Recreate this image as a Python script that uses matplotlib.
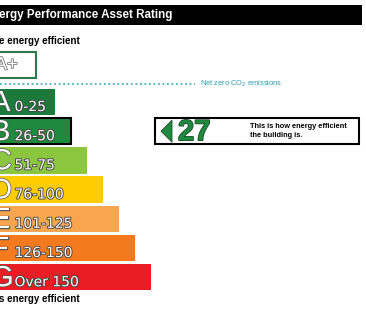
import matplotlib
matplotlib.use("Agg")
import matplotlib.pyplot as plt
import matplotlib.patheffects as pe
from matplotlib.patches import Rectangle, Polygon

plt.rcParams['font.family'] = ['Liberation Sans', 'DejaVu Sans']

# ---- data ----
bands = ['A', 'B', 'C', 'D', 'E', 'F', 'G']
ranges = ['0-25', '26-50', '51-75', '76-100', '101-125', '126-150', 'Over 150']
bar_lengths = [60, 76, 92, 108, 124, 140, 156]
colors = ['#1b7a3c', '#1f8a3e', '#8cc63f', '#ffcc00', '#f8a54f', '#f47a20', '#ea1c24']
rating = 27
rating_band = 'B'
title = 'ergy Performance Asset Rating'
top_label = 'e energy efficient'
bottom_label = 's energy efficient'
net_zero = 'Net zero CO$_2$ emissions'
rating_note = 'This is how energy efficient\nthe building is.'

W, H = 366, 311
fig = plt.figure(figsize=(W / 100, H / 100), dpi=100)
ax = fig.add_axes([0, 0, 1, 1])
ax.set_xlim(0, W)
ax.set_ylim(H, 0)
ax.axis('off')

# header
ax.add_patch(Rectangle((-5, 5), 367, 19.5, facecolor='black', edgecolor='none'))
ax.text(-1, 15, title, color='white', fontsize=8.4, fontweight='bold', va='center', ha='left')

ax.text(-1, 40.5, top_label, color='black', fontsize=7, fontweight='bold', va='center', ha='left')

# A+ box
ax.add_patch(Rectangle((-3, 51.5), 39, 26.5, facecolor='white', edgecolor='#2e7a48', linewidth=1.5))
ax.text(-5, 65, 'A+', color='white', fontsize=13, va='center', ha='left',
        path_effects=[pe.withStroke(linewidth=1.2, foreground='#777777')])

# dotted line
ax.plot([0, 195], [83.5, 83.5], linestyle=(0, (1, 1.5)), color='#45aebb', linewidth=1.3)
ax.text(200, 83.5, net_zero, color='#2b9db0', fontsize=5.4, va='center', ha='left')

# bars
y0, step, hgt = 102, 29.2, 26.5
ys = [y0 + i * step for i in range(len(bands))]
left = -5
for i, (b, r, c) in enumerate(zip(bands, ranges, colors)):
    is_r = b == rating_band
    ax.barh(ys[i], bar_lengths[i], left=left, height=hgt, color=c,
            edgecolor='black' if is_r else 'none', linewidth=1.5 if is_r else 0)
    ax.text(-9, ys[i] + 9, b, color='white', fontsize=21, va='baseline', ha='left',
            path_effects=[pe.withStroke(linewidth=1.0, foreground='#555555')])
    ax.text(14.5, ys[i] + 9, r, color='white', fontsize=10, va='baseline', ha='left',
            family='DejaVu Sans',
            path_effects=[pe.withStroke(linewidth=1.3, foreground='#444444')])

ax.text(-1, 299, bottom_label, color='black', fontsize=7, fontweight='bold', va='center', ha='left')

# rating box
ri = bands.index(rating_band)
ry = ys[ri]
ax.add_patch(Rectangle((154.5, ry - 13), 204.5, 26, facecolor='white', edgecolor='black', linewidth=1.5))
ax.add_patch(Polygon([[161, ry], [172, ry - 11], [172, ry + 11]], closed=True,
                     facecolor=colors[ri], edgecolor='#1c4d2c', linewidth=0.6))
ax.text(178, ry + 1, str(rating), color=colors[ri], fontsize=21, fontweight='bold', va='center', ha='left',
        path_effects=[pe.withStroke(linewidth=1.2, foreground='#1c4d2c')])
ax.text(250, ry, rating_note, color='black', fontsize=5.3, fontweight='bold', va='center', ha='left',
        linespacing=1.3)

fig.savefig('out.png', dpi=100)
